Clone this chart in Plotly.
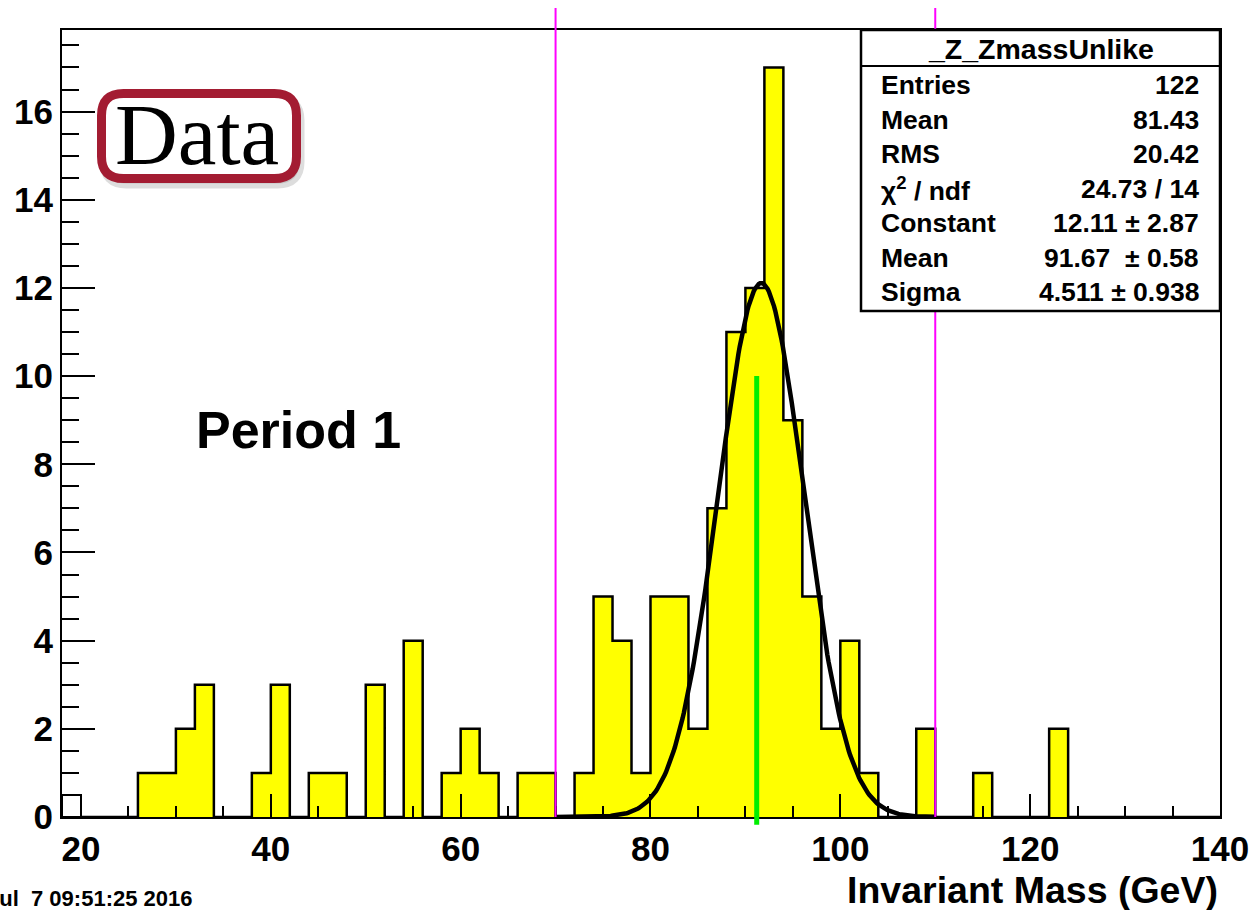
import numpy as np
import plotly.graph_objects as go

# _Z_ZmassUnlike : 2 GeV bins, lower edges 20 ... 138
bin_lo = list(range(20, 140, 2))
counts = [0, 0, 0, 1, 1, 2, 3, 0, 0, 1,
          3, 0, 1, 1, 0, 3, 0, 4, 0, 1,
          2, 1, 0, 1, 1, 0, 1, 5, 4, 1,
          5, 5, 2, 7, 11, 12, 17, 9, 5, 2,
          4, 1, 0, 0, 2, 0, 0, 1, 0, 0,
          0, 2, 0, 0, 0, 0, 0, 0, 0, 0]
bin_w = 2

# odd empty box sitting in the first (18-20) slot
extra_lo = [18]
extra_h = [0.5]

# gaussian fit (from the stats box)
fit_const = 12.11
fit_mean = 91.67
fit_sigma = 4.511
fit_range = [70, 110]

# mass window and PDG Z mass marker
window_edges = [70, 110]
z_mass = 91.19
z_line_top = 10

stats_title = "_Z_ZmassUnlike"
stats_labels = ["Entries", "Mean", "RMS", "χ<sup>2</sup> / ndf", "Constant", "Mean", "Sigma"]
stats_values = ["122", "81.43", "20.42", "24.73 / 14", "12.11 ± 2.87", "91.67  ± 0.58", "4.511 ± 0.938"]

x_range = [18, 140]
y_range = [0, 17.85]

FONT = "Liberation Sans, Arial, Helvetica, sans-serif"
W, H = 1255, 910
ML, MR, MT, MB = 62, 35, 30, 93
PW, PH = W - ML - MR, H - MT - MB


def px_x(x):
    return (x - ML) / PW


def px_y(y):
    return (H - MB - y) / PH


fig = go.Figure()

centers = [lo + bin_w / 2 for lo in bin_lo]
fig.add_trace(go.Bar(x=centers, y=counts, width=bin_w,
                     marker=dict(color="#ffff00", line=dict(width=0)),
                     hoverinfo="skip"))
fig.add_trace(go.Bar(x=[lo + bin_w / 2 for lo in extra_lo], y=extra_h, width=bin_w,
                     marker=dict(color="white", line=dict(width=2, color="black")),
                     hoverinfo="skip"))

# step outline like ROOT draws it
edges = bin_lo + [bin_lo[-1] + bin_w]
fig.add_trace(go.Scatter(x=edges, y=counts + [counts[-1]], mode="lines",
                         line=dict(shape="hv", color="black", width=2.5),
                         hoverinfo="skip"))

xf = np.linspace(fit_range[0], fit_range[1], 300)
yf = fit_const * np.exp(-0.5 * ((xf - fit_mean) / fit_sigma) ** 2)
fig.add_trace(go.Scatter(x=xf, y=yf, mode="lines",
                         line=dict(color="black", width=4.5), hoverinfo="skip"))

shapes = []
for xe in window_edges:
    shapes.append(dict(type="line", xref="x", yref="paper", x0=xe, x1=xe,
                       y0=0, y1=px_y(8), line=dict(color="#ff00ff", width=2)))
shapes.append(dict(type="line", xref="x", yref="paper", x0=z_mass, x1=z_mass,
                   y0=-0.01, y1=z_line_top / y_range[1],
                   line=dict(color="#00ee00", width=5)))

# stats box
sx0, sx1, sy0, sy1 = px_x(861), 1.0, px_y(311), 1.0
shapes.append(dict(type="rect", xref="paper", yref="paper", x0=sx0, x1=sx1, y0=sy0, y1=sy1,
                   fillcolor="white", line=dict(color="black", width=2.5)))
shapes.append(dict(type="line", xref="paper", yref="paper", x0=sx0, x1=sx1,
                   y0=px_y(66), y1=px_y(66), line=dict(color="black", width=2)))


def rounded(x0, x1, top, bot, r):
    return (f"M{x0 + r},{top} L{x1 - r},{top} Q{x1},{top} {x1},{top - r} "
            f"L{x1},{bot + r} Q{x1},{bot} {x1 - r},{bot} L{x0 + r},{bot} "
            f"Q{x0},{bot} {x0},{bot + r} L{x0},{top - r} Q{x0},{top} {x0 + r},{top} Z")


# "Data" badge, pixel path anchored at the plot's top-left corner
bx0, bx1, btop, bbot = 101.5 - ML, 296.5 - ML, -(93.5 - MT), -(178.5 - MT)
shapes.append(dict(type="path", xref="paper", yref="paper", xsizemode="pixel", ysizemode="pixel",
                   xanchor=0, yanchor=1, path=rounded(bx0 + 3, bx1 + 3, btop - 5, bbot - 5, 22),
                   fillcolor="rgba(120,120,120,0.25)", line=dict(color="rgba(120,120,120,0.25)", width=10)))
shapes.append(dict(type="path", xref="paper", yref="paper", xsizemode="pixel", ysizemode="pixel",
                   xanchor=0, yanchor=1, path=rounded(bx0, bx1, btop, bbot, 22),
                   fillcolor="white", line=dict(color="#a31c32", width=9)))

ann = []
ann.append(dict(text="Data", x=px_x(197), y=px_y(135), xref="paper", yref="paper",
                showarrow=False, xanchor="center", yanchor="middle",
                font=dict(family="Liberation Serif, Times New Roman, serif", size=87, color="black")))
ann.append(dict(text="Period 1", x=px_x(194), y=px_y(430), xref="paper", yref="paper",
                showarrow=False, xanchor="left", yanchor="middle",
                font=dict(family=FONT, size=52, color="black", weight="bold")))
ann.append(dict(text=stats_title, x=(sx0 + sx1) / 2, y=px_y(49), xref="paper", yref="paper",
                showarrow=False, xanchor="center", yanchor="middle",
                font=dict(family=FONT, size=28.5, color="black", weight="bold")))
for i, (lab, val) in enumerate(zip(stats_labels, stats_values)):
    yy = px_y(85 + 34.5 * i)
    ann.append(dict(text=lab, x=px_x(879), y=yy, xref="paper", yref="paper",
                    showarrow=False, xanchor="left", yanchor="middle",
                    font=dict(family=FONT, size=26.5, color="black", weight="bold")))
    ann.append(dict(text=val, x=px_x(1201), y=yy, xref="paper", yref="paper",
                    showarrow=False, xanchor="right", yanchor="middle",
                    font=dict(family=FONT, size=26.5, color="black", weight="bold")))
ann.append(dict(text="Invariant Mass (GeV)", x=1.0, y=px_y(890), xref="paper", yref="paper",
                showarrow=False, xanchor="right", yanchor="middle",
                font=dict(family=FONT, size=37.5, color="black", weight="bold")))
ann.append(dict(text="Jul\u00a0\u00a07 09:51:25 2016", x=px_x(194), y=px_y(898), xref="paper", yref="paper",
                showarrow=False, xanchor="right", yanchor="middle",
                font=dict(family=FONT, size=22, color="black", weight="bold")))

tickfont = dict(family=FONT, size=35, color="black", weight="bold")
fig.update_layout(
    width=W, height=H,
    margin=dict(l=ML, r=MR, t=MT, b=MB, pad=0),
    paper_bgcolor="white", plot_bgcolor="white",
    showlegend=False, bargap=0, barmode="overlay",
    shapes=shapes, annotations=ann,
    xaxis=dict(range=x_range, tick0=0, dtick=20, ticks="inside", ticklen=23, tickwidth=2,
               tickcolor="black", showline=True, linecolor="black", linewidth=2, mirror=True,
               showgrid=False, zeroline=False, tickfont=tickfont, automargin=False,
               minor=dict(tick0=0, dtick=5, ticks="inside", ticklen=11, tickwidth=2,
                          tickcolor="black", showgrid=False)),
    yaxis=dict(range=y_range, tick0=0, dtick=2, ticks="inside", ticklen=33, tickwidth=2,
               tickcolor="black", showline=True, linecolor="black", linewidth=2, mirror=True,
               showgrid=False, zeroline=False, tickfont=tickfont, automargin=False,
               minor=dict(tick0=0, dtick=0.5, ticks="inside", ticklen=17, tickwidth=2,
                          tickcolor="black", showgrid=False)),
)

fig.write_html("out.html", config={"displayModeBar": False},
               post_script="document.body.style.margin='0';")
